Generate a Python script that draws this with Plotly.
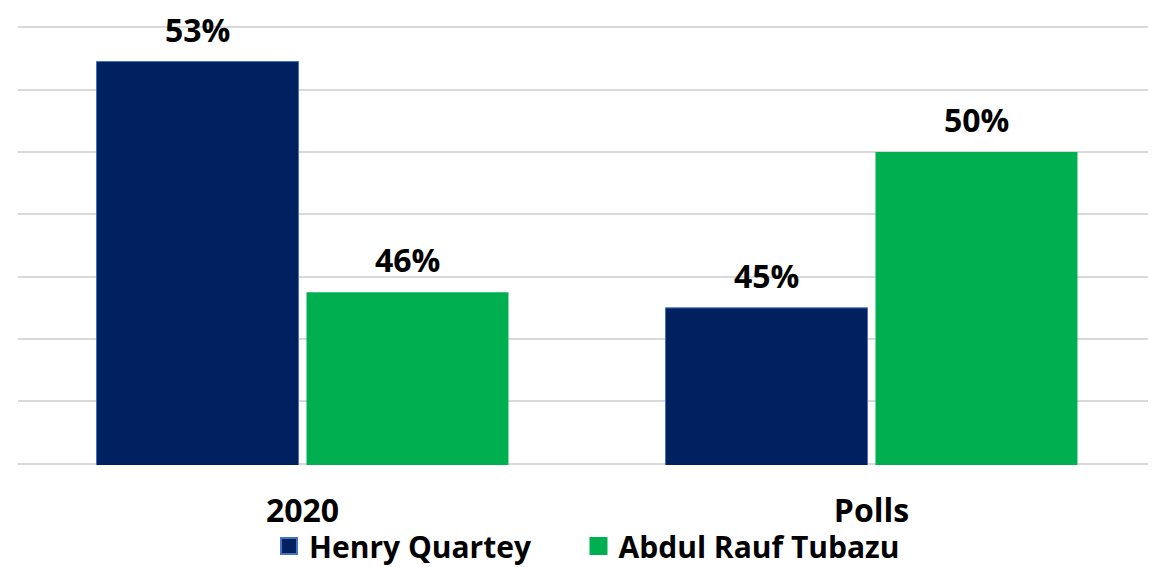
import plotly.graph_objects as go

categories = ["2020", "Polls"]
series_names = ["Henry Quartey", "Abdul Rauf Tubazu"]
henry_values = [52.9, 45.0]
abdul_values = [45.5, 50.0]
henry_labels = ["53%", "45%"]
abdul_labels = ["46%", "50%"]
colors = ["#002060", "#00B050"]
border_colors = ["#4472C4", "#00B050"]

# page body has an 8px default margin, so the figure is 8px smaller than the window
W, H = 1148, 559
ML, MR, MT, MB = 10, 0, 18, 102
BARGAP = 0.262
FONT = "Open Sans"
LBL_SIZE = 32
LEG_SIZE = 30
LEGEND_IDS = ["legend", "legend2"]
LEGEND_LEFT_PX = [261, 570.5]

fig = go.Figure()
series = [henry_values, abdul_values]
labels = [henry_labels, abdul_labels]
for i, name in enumerate(series_names):
    fig.add_trace(go.Bar(
        x=categories, y=series[i], name=name,
        marker=dict(color=colors[i], line=dict(color=border_colors[i], width=1 if i == 0 else 0)),
        showlegend=False,
    ))
    # legend proxy with larger square
    fig.add_trace(go.Scatter(
        x=[None], y=[None], mode="markers", name=name, legend=LEGEND_IDS[i],
        marker=dict(symbol="square", size=22, color=colors[i],
                    line=dict(color=border_colors[i], width=2)),
        showlegend=True,
    ))

# value labels as annotations above bars (x given as category index)
plot_w = W - ML - MR
cat_w = plot_w / len(categories)
offset = cat_w * (1 - BARGAP) / 4
for i in range(len(series_names)):
    shift = -offset if i == 0 else offset
    for j, (v, t) in enumerate(zip(series[i], labels[i])):
        fig.add_annotation(
            x=j, y=v, text=t, showarrow=False, xshift=shift, yshift=9,
            yanchor="bottom", font=dict(family=FONT, size=LBL_SIZE, color="#000000", weight="bold"),
        )

legend_common = dict(orientation="h", xanchor="left", y=-0.1845, yanchor="middle",
                     itemsizing="trace", bgcolor="rgba(0,0,0,0)",
                     font=dict(family=FONT, size=LEG_SIZE, color="#000000", weight="bold"))

fig.update_layout(
    width=W, height=H,
    margin=dict(l=ML, r=MR, t=MT, b=MB, autoexpand=False),
    paper_bgcolor="white", plot_bgcolor="white",
    barmode="group", bargap=BARGAP, bargroupgap=0.038,
    font=dict(family=FONT, size=LBL_SIZE, color="#000000", weight="bold"),
    legend=dict(x=(LEGEND_LEFT_PX[0] - ML) / plot_w, **legend_common),
    legend2=dict(x=(LEGEND_LEFT_PX[1] - ML) / plot_w, **legend_common),
    showlegend=True,
)
fig.update_xaxes(type="category", categoryorder="array", categoryarray=categories,
                 range=[-0.5, len(categories) - 0.5],
                 showline=False, showgrid=False, ticks="", ticklabelstandoff=24,
                 tickfont=dict(family=FONT, size=LBL_SIZE, color="#000000", weight="bold"))
fig.update_yaxes(range=[39.96, 54.04], tickvals=[40, 42, 44, 46, 48, 50, 52, 54], showticklabels=False,
                 showgrid=True, gridcolor="#D9D9D9", gridwidth=2, zeroline=False, showline=False, ticks="")

fig.write_html("out.html")
